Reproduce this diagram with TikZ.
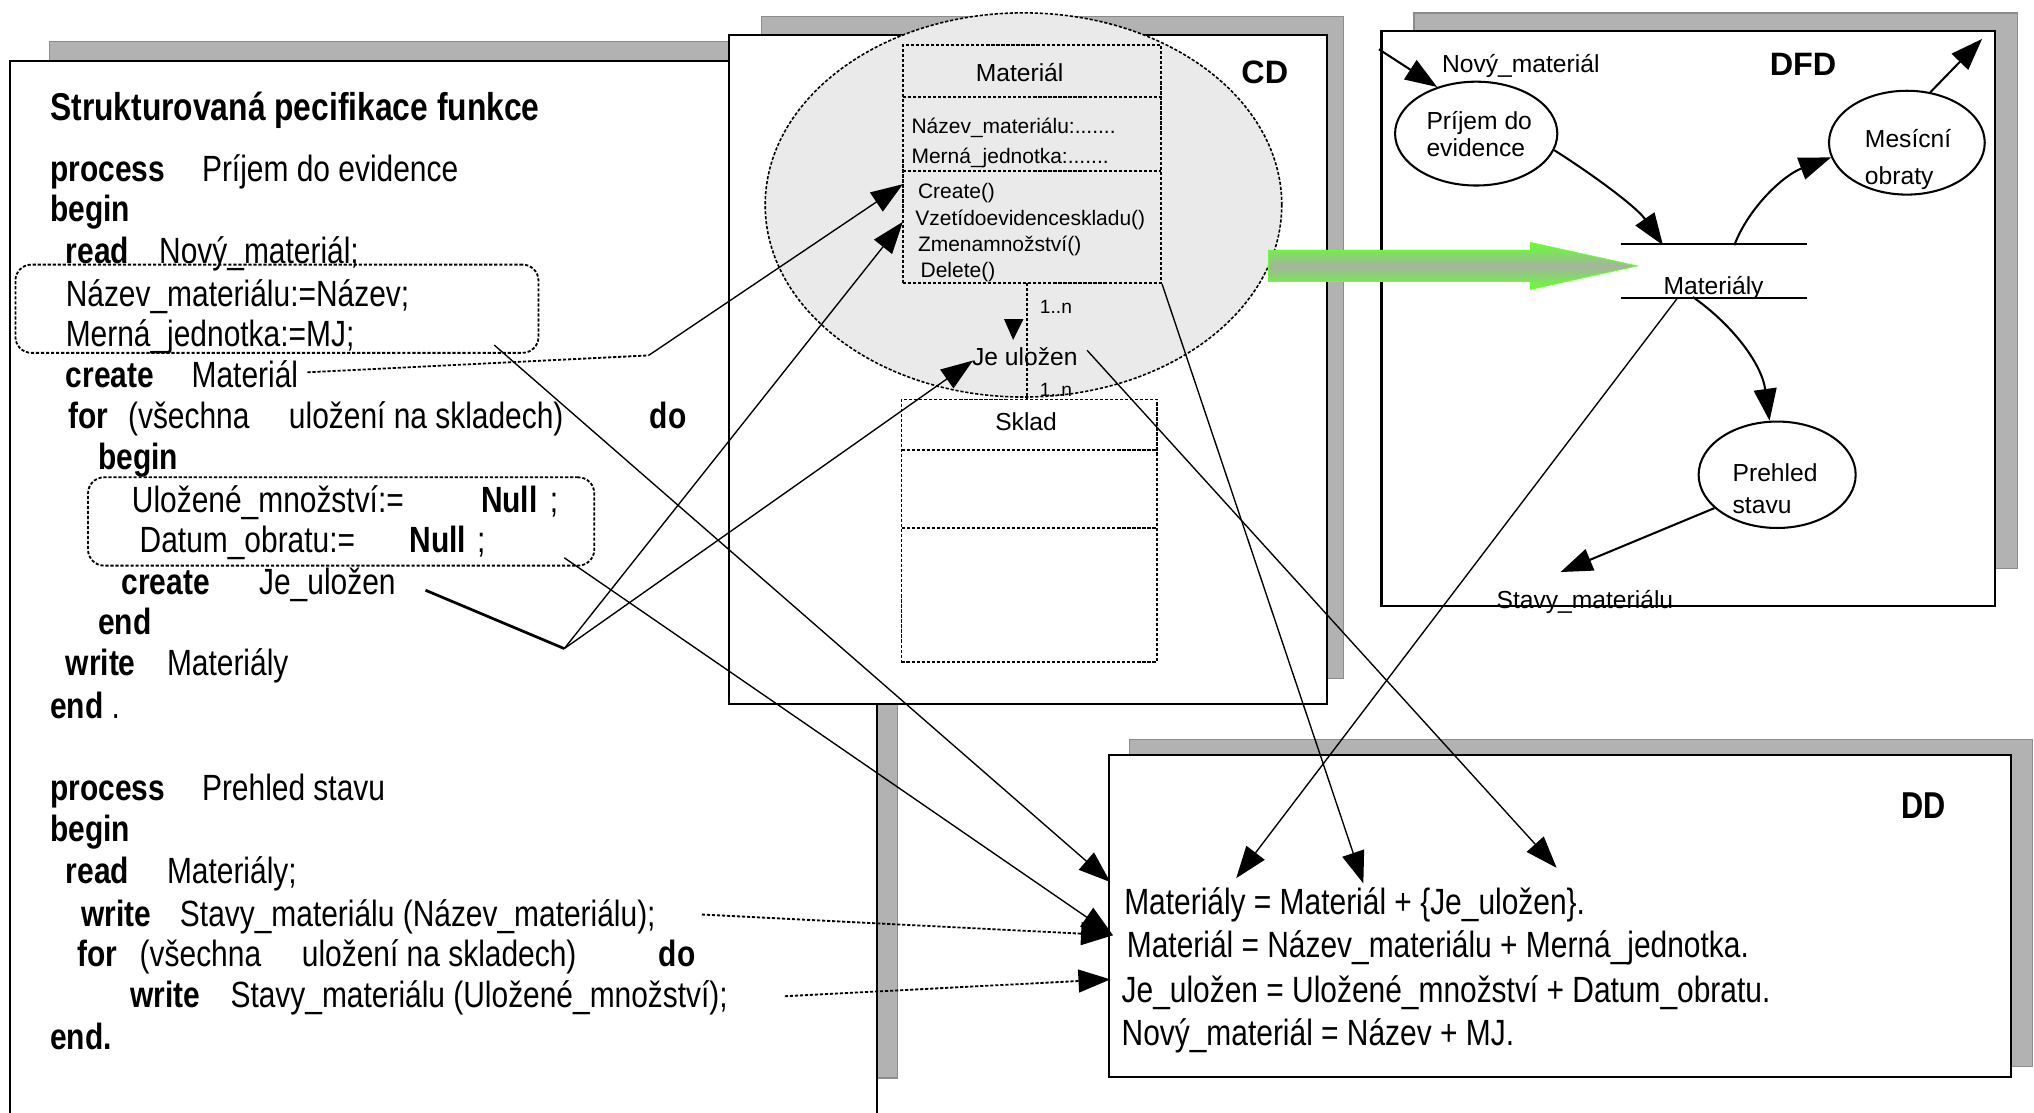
\documentclass[tikz,border=0pt]{standalone}
\usepackage{fontspec}
\setmainfont{Liberation Sans}
\newfontfamily\narrowfont[FakeStretch=0.82]{Liberation Sans}
\usepackage{tikz}
\usetikzlibrary{arrows.meta,shapes.geometric}
\definecolor{shadowgray}{HTML}{B2B2B2}
\definecolor{shadowline}{HTML}{8C8C8C}
\definecolor{bubble}{HTML}{EAEAEA}
\definecolor{arrowgreen}{HTML}{66FF33}
\definecolor{arrowgray}{HTML}{A4B49E}
\newcommand{\pcol}[2]{\makebox[#1][l]{#2}}
\tikzset{
  panel/.style={draw=black, fill=white, line width=0.45pt},
  shadow/.style={draw=shadowline, fill=shadowgray, line width=0.25pt},
  spec/.style={font=\narrowfont\fontsize{8}{9.6}\selectfont, anchor=base west, inner sep=0pt},
  spechead/.style={font=\narrowfont\bfseries\fontsize{8.5}{10}\selectfont, anchor=base west, inner sep=0pt},
  head/.style={font=\bfseries\fontsize{7.1}{8.5}\selectfont, anchor=base, inner sep=0pt},
  ddhead/.style={font=\narrowfont\bfseries\fontsize{8.2}{9.8}\selectfont, anchor=base, inner sep=0pt},
  uml/.style={font=\fontsize{4.6}{5.5}\selectfont, anchor=base west, inner sep=0pt},
  umltitle/.style={font=\fontsize{5.4}{6.5}\selectfont, anchor=base, inner sep=0pt},
  mult/.style={font=\fontsize{4.2}{5}\selectfont, anchor=base west, inner sep=0pt},
  dfd/.style={font=\fontsize{5.4}{6.5}\selectfont, anchor=base west, inner sep=0pt},
  fine/.style={dash pattern=on 0.7pt off 0.4pt},
  umlbox/.style={draw, fine, line width=0.4pt, inner sep=0pt},
  umlsep/.style={draw, fine, line width=0.4pt},
  dotbox/.style={draw, fine, line width=0.4pt, rounded corners=3.5pt, inner sep=0pt},
  proc/.style={draw, ellipse, line width=0.45pt, inner sep=0pt},
  store/.style={draw, line width=0.45pt},
  link/.style={draw, line width=0.3pt, -{Triangle[length=7pt,width=5pt]}},
  dlink/.style={link, fine, line width=0.4pt},
  dflow/.style={link, line width=0.45pt},
  plain/.style={draw, line width=0.3pt}
}

\begin{document}
\begin{tikzpicture}[x=0.01cm,y=-0.01cm]
  \useasboundingbox (0,0) rectangle (1568,858);
  % shadows and panels
  \draw[shadow] (38,32) rectangle (692,831);
  \draw[panel] (8,47) rectangle (676,880);
  \draw[shadow] (587,13) rectangle (1036,523);
  \draw[panel] (562,27) rectangle (1023,543);
  \draw[shadow] (1090,10) rectangle (1555,438);
  \draw[panel] (1065,24) rectangle (1538,467);
  \draw[shadow] (871,570) rectangle (1567,822);
  \draw[panel] (855,582) rectangle (1550,830);

  % structured specification
  \node[spechead] (title) at (38,93) {Strukturovaná pecifikace funkce};
  \node[spec] (s1) at (38,140) {\pcol{1.17cm}{\bfseries process}Príjem do evidence};
  \node[spec] (s2) at (38,171) {\textbf{begin}};
  \node[spec] (s3) at (50,203) {\pcol{0.72cm}{\bfseries read}Nový\_materiál;};
  \node[spec] (s4) at (50,236) {Název\_materiálu:=Název;};
  \node[spec] (s5) at (50,267) {Merná\_jednotka:=MJ;};
  \node[spec] (s6) at (50,299) {\pcol{0.97cm}{\bfseries create}Materiál};
  \node[spec] (s7) at (52,330) {\pcol{0.46cm}{\bfseries for}\pcol{1.24cm}{(všechna}\pcol{2.78cm}{uložení na skladech)}\textbf{do}};
  \node[spec] (s8) at (75,362) {\textbf{begin}};
  \node[spec] (s9) at (101,395) {\pcol{2.69cm}{Uložené\_množství:=}\pcol{0.53cm}{\bfseries Null};};
  \node[spec] (s10) at (107,426) {\pcol{2.08cm}{Datum\_obratu:=}\pcol{0.52cm}{\bfseries Null};};
  \node[spec] (s11) at (93,458) {\pcol{1.06cm}{\bfseries create}Je\_uložen};
  \node[spec] (s12) at (75,489) {\textbf{end}};
  \node[spec] (s13) at (50,521) {\pcol{0.78cm}{\bfseries write}Materiály};
  \node[spec] (s14) at (38,554) {\textbf{end} .};
  \node[spec] (s15) at (38,617) {\pcol{1.17cm}{\bfseries process}Prehled stavu};
  \node[spec] (s16) at (38,649) {\textbf{begin}};
  \node[spec] (s17) at (50,681) {\pcol{0.78cm}{\bfseries read}Materiály;};
  \node[spec] (s18) at (62,714) {\pcol{0.76cm}{\bfseries write}Stavy\_materiálu (Název\_materiálu);};
  \node[spec] (s19) at (59,745) {\pcol{0.48cm}{\bfseries for}\pcol{1.25cm}{(všechna}\pcol{2.75cm}{uložení na skladech)}\textbf{do}};
  \node[spec] (s20) at (100,777) {\pcol{0.77cm}{\bfseries write}Stavy\_materiálu (Uložené\_množství);};
  \node[spec] (s21) at (38,809) {\textbf{end.}};
  \node[dotbox, minimum width=4.03cm, minimum height=0.68cm] (box1) at (213.5,238) {};
  \node[dotbox, minimum width=3.90cm, minimum height=0.68cm] (box2) at (263,402) {};

  % class diagram
  \node[head] (cd) at (975,64) {CD};
  \draw[fine, fill=bubble, line width=0.35pt] (789,158) ellipse [x radius=1.99cm, y radius=1.48cm];
  \node[umlbox, minimum width=1.99cm, minimum height=1.83cm] (mat) at (795.5,126.5) {};
  \draw[umlsep] (696,75) -- (895,75) (696,132) -- (895,132);
  \node[umltitle] (matname) at (786,63) {Materiál};
  \node[uml] (a1) at (702,103) {Název\_materiálu:.......};
  \node[uml] (a2) at (702,126) {Merná\_jednotka:.......};
  \node[uml] (m1) at (707,153) {Create()};
  \node[uml] (m2) at (705,174) {Vzetídoevidenceskladu()};
  \node[uml] (m3) at (707,194) {Zmenamnožství()};
  \node[uml] (m4) at (709,214) {Delete()};
  \node[umlbox, minimum width=1.97cm, minimum height=2.02cm] (sklad) at (793.5,409) {};
  \draw[umlsep] (695,347) -- (892,347) (695,407) -- (892,407);
  \node[umltitle] (skladname) at (791,332) {Sklad};
  \draw[umlsep] (792,218) -- (792,308);
  \node[mult] (n1) at (801,242) {1..n};
  \node[mult] (n2) at (801,306) {1..n};
  \fill (774,246) -- (789,246) -- (781,262) -- cycle;
  \node[umltitle] (jeulozen) at (790,282) {Je uložen};

  % data flow diagram
  \node[head] (dfdname) at (1390,58) {DFD};
  \node[dfd] (novy) at (1111,56) {Nový\_materiál};
  \node[proc, minimum width=1.25cm, minimum height=0.80cm] (prijem) at (1138,103) {};
  \node[dfd] (p1) at (1099,100) {Príjem do};
  \node[dfd] (p2) at (1099,121) {evidence};
  \node[proc, minimum width=1.20cm, minimum height=0.80cm] (mesicni) at (1470,110) {};
  \node[dfd] (o1) at (1437,114) {Mesícní};
  \node[dfd] (o2) at (1437,142) {obraty};
  \node[proc, minimum width=1.21cm, minimum height=0.82cm] (prehled) at (1370,366) {};
  \node[dfd] (h1) at (1335,371) {Prehled};
  \node[dfd] (h2) at (1335,396) {stavu};
  \node[inner sep=0pt, minimum width=1.42cm, minimum height=0.40cm] (store) at (1321,209) {};
  \draw[store] (store.north west) -- (store.north east) (store.south west) -- (store.south east);
  \node[dfd, anchor=base] (storename) at (1321,227) {Materiály};
  \node[dfd] (stavy) at (1153,469) {Stavy\_materiálu};

  % data dictionary
  \node[ddhead] (ddname) at (1483,631) {DD};
  \node[spec] (d1) at (866,705) {Materiály = Materiál + \{Je\_uložen\}.};
  \node[spec] (d2) at (868,738) {Materiál = Název\_materiálu + Merná\_jednotka.};
  \node[spec] (d3) at (864,773) {Je\_uložen = Uložené\_množství + Datum\_obratu.};
  \node[spec] (d4) at (864,806) {Nový\_materiál = Název + MJ.};

  % connector ends
  \coordinate (cMat) at (237,287);
  \coordinate (bendA) at (500,274);
  \coordinate (opCreate) at (696,142);
  \coordinate (opVzeti) at (696,171);
  \coordinate (cJe) at (328,455);
  \coordinate (fork) at (435,500);
  \coordinate (jeLeft) at (750,278);
  \coordinate (jeRight) at (838,270);
  \coordinate (box1out) at (381,266);
  \coordinate (box2out) at (435,430);
  \coordinate (wr1) at (541,705);
  \coordinate (wr2) at (605,768);
  \coordinate (ddIn1) at (856,680);
  \coordinate (ddIn2) at (858,721);
  \coordinate (ddIn3) at (856,755);
  \coordinate (ddMatly) at (953,677);
  \coordinate (ddMat) at (1051,681);
  \coordinate (ddJe) at (1200,669);
  \coordinate (stOut) at (1293,230);
  \coordinate (stIn) at (1282,189);
  \coordinate (stUp) at (1337,189);
  \coordinate (stDown) at (1305,229);
  \coordinate (nmIn) at (1063,38);
  \coordinate (mesOut) at (1528,30);
  \coordinate (stavyIn) at (1203,441);

  % links between the diagrams
  \draw[plain, fine, line width=0.4pt] (cMat) -- (bendA);
  \draw[link] (bendA) -- (opCreate);
  \draw[plain, line width=0.6pt] (cJe) -- (fork);
  \draw[link] (fork) -- (opVzeti);
  \draw[link] (fork) -- (jeLeft);
  \draw[link] (box1out) -- (ddIn1);
  \draw[link] (box2out) -- (ddIn2);
  \draw[dlink] (wr1) -- (ddIn2);
  \draw[dlink] (wr2) -- (ddIn3);
  \draw[link] (jeRight) -- (ddJe);
  \draw[link] (mat.south east) -- (ddMat);
  \draw[link] (stOut) -- (ddMatly);

  % flows
  \draw[dflow] (nmIn) -- (prijem.130);
  \draw[dflow] (prijem.-12) .. controls (1230,136) and (1262,160) .. (stIn);
  \draw[dflow] (stUp) .. controls (1348,160) and (1375,135) .. (mesicni.191);
  \draw[dflow] (mesicni.65) -- (mesOut);
  \draw[dflow] (stDown) .. controls (1335,250) and (1358,280) .. (prehled.98);
  \draw[dflow] (prehled.208) -- (stavyIn);

  % CD to DFD
  \shade[top color=arrowgreen, bottom color=arrowgreen, middle color=arrowgray, draw=arrowgreen, line width=0.2pt]
    (978,193) -- (1180,193) -- (1180,187) -- (1262,205) -- (1180,223) -- (1180,217) -- (978,217) -- cycle;
\end{tikzpicture}
\end{document}
